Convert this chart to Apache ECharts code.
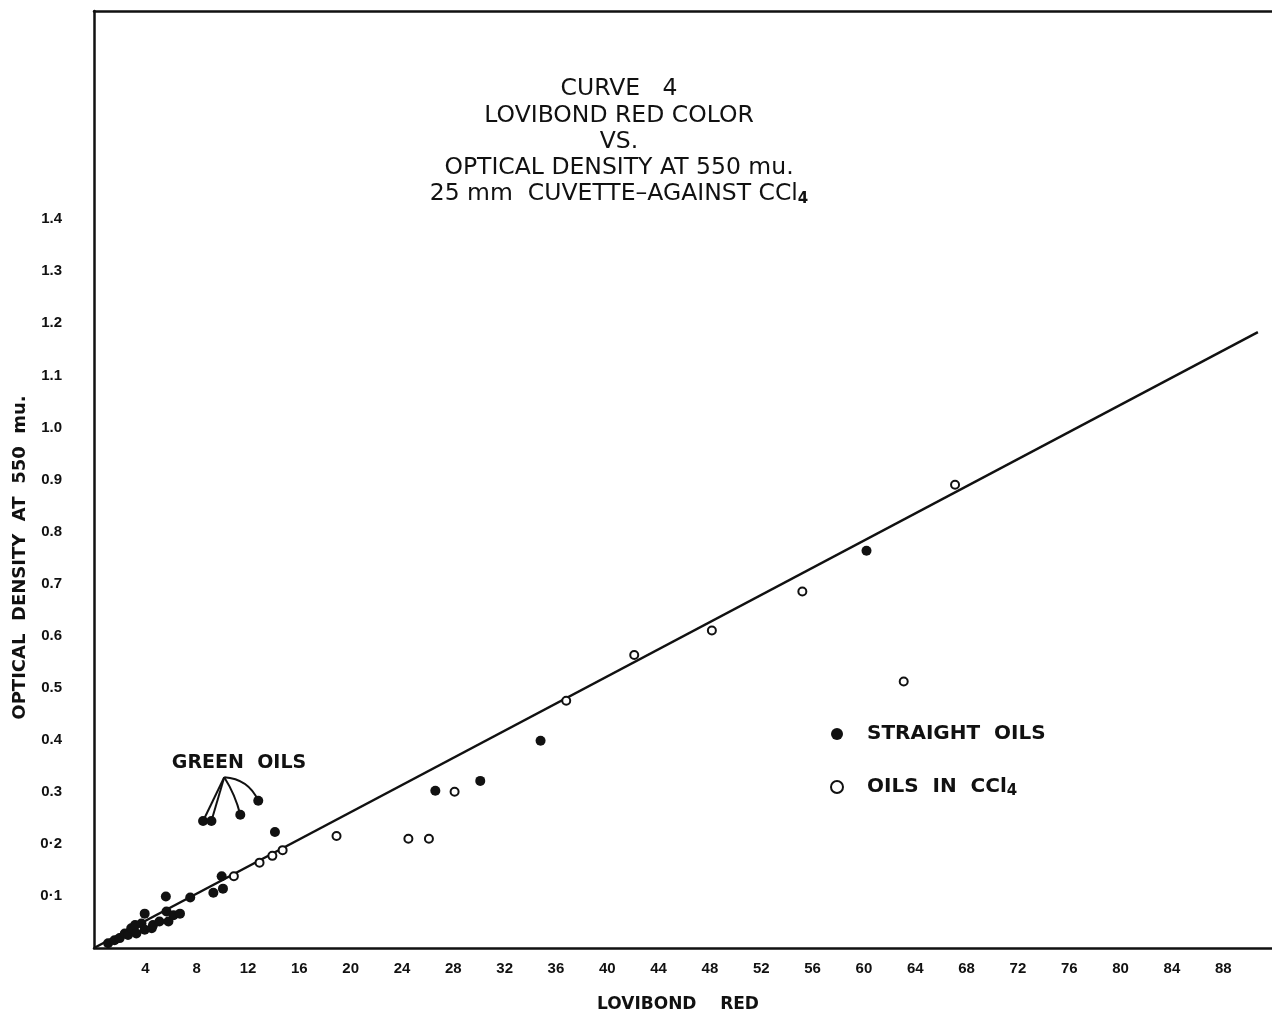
<!DOCTYPE html>
<html>
<head>
<meta charset="utf-8">
<script src="https://cdn.jsdelivr.net/npm/echarts@6/dist/echarts.min.js"></script>
<style>
html,body{margin:0;padding:0;background:#fff;}
#chart{width:1272px;height:1015px;}
</style>
</head>
<body>
<div id="chart"></div>
<script>
// ---- data ----
var straightOils = [
  [1.1,0.009],[1.6,0.015],[2.0,0.019],[2.4,0.028],[2.65,0.025],[2.9,0.038],
  [3.2,0.044],[3.3,0.028],[3.7,0.047],[3.95,0.066],[3.95,0.035],[4.5,0.038],
  [4.6,0.044],[5.1,0.051],[5.6,0.099],[5.65,0.07],[5.8,0.051],[6.2,0.063],
  [6.7,0.066],[7.5,0.097],[9.3,0.106],[10.05,0.114],[9.95,0.138],[14.1,0.223],
  [26.6,0.302],[30.1,0.321],[34.8,0.398],[60.2,0.763]
];
var greenOils = [[8.5,0.244],[9.15,0.244],[11.4,0.256],[12.8,0.283]];
var oilsInCCl4 = [
  [10.9,0.138],[12.9,0.164],[13.9,0.177],[14.7,0.188],[18.9,0.215],[24.5,0.21],
  [26.1,0.21],[28.1,0.30],[36.8,0.475],[42.1,0.563],[48.15,0.61],[55.2,0.685],
  [63.1,0.512],[67.1,0.89]
];
var fitLine = [[0,0],[90.7,1.183]];
var greenAnchor = [10.15,0.328];
var greenLabelPos = [11.3,0.355];
var xTickValues = [4,8,12,16,20,24,28,32,36,40,44,48,52,56,60,64,68,72,76,80,84,88];
var xTickLabels = ['4','8','12','16','20','24','28','32','36','40','44','48','52','56','60','64','68','72','76','80','84','88'];
var yTickValues = [0.1,0.2,0.3,0.4,0.5,0.6,0.7,0.8,0.9,1.0,1.1,1.2,1.3,1.4];
var yTickLabels = ['0·1','0·2','0.3','0.4','0.5','0.6','0.7','0.8','0.9','1.0','1.1','1.2','1.3','1.4'];
var titleLines = ['CURVE   4','LOVIBOND RED COLOR','VS.','OPTICAL DENSITY AT 550 mu.','25 mm  CUVETTE–AGAINST CCl'];

function lookup(vals, labels, v){
  for (var i=0;i<vals.length;i++){ if (Math.abs(vals[i]-v)<1e-6) return labels[i]; }
  return '';
}

var FONT = '"Liberation Sans", Arial, sans-serif';
var WIDE = '"DejaVu Sans", sans-serif';
var INK = '#111';

var chart = echarts.init(document.getElementById('chart'), null, {renderer:'canvas'});
var titleText = titleLines.slice(0,4).map(function(t){return '{a|'+t+'}';}).join('\n') +
  '\n{a|' + titleLines[4] + '}{s|4}';

chart.setOption({
  animation:false,
  backgroundColor:'#fff',
  title:{
    text:titleText,
    left:614, top:71, textAlign:'center',
    textStyle:{
      rich:{
        a:{fontFamily:WIDE, fontSize:23.5, fontWeight:'normal', color:INK, lineHeight:26.3, align:'center'},
        s:{fontFamily:WIDE, fontSize:15, fontWeight:'bold', color:INK, lineHeight:26.3, padding:[10,0,0,0]}
      }
    }
  },
  legend:{
    data:['STRAIGHT OILS','OILS IN CCl4'],
    orient:'vertical', left:825, top:719, itemGap:31, itemWidth:14, itemHeight:12,
    formatter:function(n){ return n==='OILS IN CCl4' ? '{t|OILS  IN  CCl}{s|4}' : '{t|STRAIGHT  OILS}'; },
    textStyle:{
      padding:[0,0,0,18],
      rich:{
        t:{fontFamily:WIDE, fontSize:20, fontWeight:'bold', color:INK, lineHeight:24},
        s:{fontFamily:WIDE, fontSize:15, fontWeight:'bold', color:INK, lineHeight:24, padding:[9,0,0,0]}
      }
    }
  },
  grid:{left:94, right:0, top:11, bottom:67, containLabel:false, outerBoundsMode:'none'},
  xAxis:[{
    type:'value', min:0, max:91.8, interval:4,
    name:'LOVIBOND    RED', nameLocation:'middle', nameGap:48,
    nameTextStyle:{fontFamily:WIDE, fontSize:17, fontWeight:'bold', color:INK, padding:[0,10,0,0]},
    axisLine:{show:true, onZero:false, lineStyle:{color:INK, width:2.5}},
    axisTick:{show:false}, splitLine:{show:false},
    axisLabel:{margin:13, fontFamily:FONT, fontSize:15, fontWeight:'bold', color:INK,
      showMaxLabel:false,
      formatter:function(v){ return lookup(xTickValues, xTickLabels, v); }}
  },{
    type:'value', position:'top', min:0, max:91.8,
    axisLine:{show:true, onZero:false, lineStyle:{color:INK, width:2.5}},
    axisTick:{show:false}, axisLabel:{show:false}, splitLine:{show:false}
  }],
  yAxis:{
    type:'value', min:0, max:1.8, interval:0.1,
    name:'OPTICAL  DENSITY  AT  550  mu.', nameLocation:'middle', nameGap:64, nameRotate:90,
    nameTextStyle:{fontFamily:WIDE, fontSize:18, fontWeight:'bold', color:INK, padding:[0,156,0,0]},
    axisLine:{show:true, onZero:false, lineStyle:{color:INK, width:2.5}},
    axisTick:{show:false}, splitLine:{show:false},
    axisLabel:{margin:32, fontFamily:FONT, fontSize:15, fontWeight:'bold', color:INK,
      formatter:function(v){ return lookup(yTickValues, yTickLabels, Math.round(v*10)/10); }}
  },
  series:[
    {
      name:'fit', type:'line', data:fitLine, showSymbol:false, symbol:'none',
      lineStyle:{color:INK, width:2.5}, z:2, silent:true
    },
    {
      name:'STRAIGHT OILS', type:'scatter', data:straightOils.concat(greenOils),
      symbol:'circle', symbolSize:10,
      itemStyle:{color:INK, borderWidth:0, opacity:1}, z:3
    },
    {
      name:'OILS IN CCl4', type:'scatter', data:oilsInCCl4,
      symbol:'circle', symbolSize:8,
      itemStyle:{color:'#fff', borderColor:INK, borderWidth:2, opacity:1}, z:4
    },
    {
      name:'leaders', type:'lines', coordinateSystem:'cartesian2d', silent:true, z:2,
      lineStyle:{color:INK, width:2, opacity:1},
      data: greenOils.map(function(p,i){
        var curv = [0,0,0.08,0.3][i];
        return {coords:[greenAnchor, p], lineStyle:{curveness:curv}};
      })
    },
    {
      name:'greenLabel', type:'scatter', data:[greenLabelPos], symbolSize:0, silent:true,
      itemStyle:{opacity:1},
      label:{show:true, position:'inside', formatter:'GREEN  OILS',
        fontFamily:WIDE, fontSize:19, fontWeight:'bold', color:INK}
    }
  ]
});
</script>
</body>
</html>
